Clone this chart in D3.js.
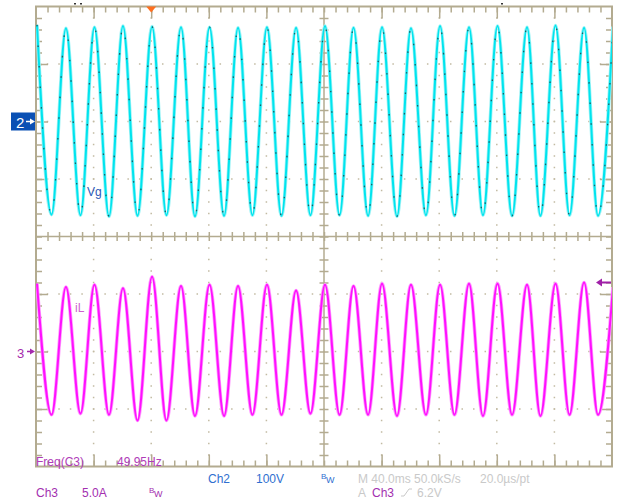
<!DOCTYPE html>
<html>
<head>
<meta charset="utf-8">
<script src="https://cdn.jsdelivr.net/npm/d3@7"></script>
<style>
  body { margin: 0; background: #fff; }
  svg { display: block; }
  text { font-family: "Liberation Sans", Arial, sans-serif; }
</style>
</head>
<body>
<div id="scope"></div>
<script>
//Peak / trough times in ms (40 ms/div)
var peakTimes = [0.7, 20.8, 40.6, 60.4, 80.6, 100.7, 120.5, 140.3, 160.4, 180.6, 200.7,
                 220.5, 240.3, 260.4, 280.6, 300.7, 320.5, 341.0, 360.8, 380.6, 400.7];
var troughTimes = [10.8, 30.9, 50.7, 70.5, 90.6, 110.4, 130.6, 150.3, 170.5, 190.6,
                   210.8, 230.6, 250.7, 270.8, 290.6, 310.4, 330.6, 350.3, 370.5, 390.3];

//Ch2 Vg (V), 100V/div
var vgPeaks = [168, 162, 164, 166, 165, 164, 164, 163, 164, 163, 166,
               163, 164, 162, 166, 164, 166, 164, 167, 163, 165];
var vgTroughs = [-162, -163, -165, -164, -163, -165, -164, -163, -164, -163,
                 -163, -164, -165, -163, -164, -163, -164, -164, -163, -164];

//Ch3 iL (A), 5.0A/div
var ilPeaks = [5.9, 5.6, 5.8, 5.5, 6.5, 5.7, 5.8, 5.7, 5.8, 5.3, 5.8,
               5.7, 5.9, 5.8, 5.8, 5.9, 5.9, 5.8, 5.9, 6.0, 5.6];
var ilTroughs = [-5.5, -5.4, -5.5, -6.0, -6.0, -5.6, -5.6, -5.5, -5.5, -5.4,
                 -5.5, -5.5, -5.6, -5.5, -5.5, -5.6, -5.5, -5.6, -5.5, -5.5];

var trigLevel = 6.0;   //A, arrow on the right
var trigTime = 80;     //ms, orange marker on top

var W = 619, H = 502;
var gLeft = 36, gRight = 612, gTop = 6.5, gBottom = 466.5;

var svg = d3.select("#scope").append("svg")
    .attr("width", W)
    .attr("height", H);

//Scales: time across, divisions up/down, one per channel
var x = d3.scaleLinear().domain([0, 400]).range([gLeft, gRight]);
var xDiv = d3.scaleLinear().domain([0, 10]).range([gLeft, gRight]);
var yDiv = d3.scaleLinear().domain([4, -4]).range([gTop, gBottom]);
var y2 = d3.scaleLinear().domain([-600, 200]).range([gBottom, gTop]);   //ground +2 div
var y3 = d3.scaleLinear().domain([-10, 30]).range([gBottom, gTop]);     //ground -2 div

var gridCol = "#b3ab90";
var dotCol = "#c2baa2";

//Graticule
var grid = svg.append("g");

var minor = d3.range(1, 50).map(function(i) { return i / 5; });
var minorY = d3.range(-19, 20).map(function(i) { return i / 5; });
var majorX = [1, 2, 3, 4, 6, 7, 8, 9];
var majorY = [-3, -2, -1, 1, 2, 3];

//dotted lines at major divisions
majorX.forEach(function(d) {
  grid.selectAll(null).data(minorY).enter().append("rect")
      .attr("x", xDiv(d) - 0.75).attr("y", function(v) { return yDiv(v) - 0.75; })
      .attr("width", 1.5).attr("height", 1.5).attr("fill", dotCol);
});
majorY.forEach(function(d) {
  grid.selectAll(null).data(minor).enter().append("rect")
      .attr("x", function(v) { return xDiv(v) - 0.75; }).attr("y", yDiv(d) - 0.75)
      .attr("width", 1.5).attr("height", 1.5).attr("fill", dotCol);
});

function tickAxis(axis, vals, size, tr) {
  var g = grid.append("g")
      .attr("transform", tr)
      .call(axis.tickValues(vals).tickSize(size).tickSizeOuter(0).tickFormat(""));
  g.select(".domain").remove();
  g.selectAll("line").attr("stroke", gridCol).attr("stroke-width", 1.5);
}

//border ticks (minor + longer majors), pointing inward
tickAxis(d3.axisBottom(xDiv), minor, 6, "translate(0," + gTop + ")");
tickAxis(d3.axisBottom(xDiv), majorX, 12, "translate(0," + gTop + ")");
tickAxis(d3.axisTop(xDiv), minor, 6, "translate(0," + gBottom + ")");
tickAxis(d3.axisTop(xDiv), majorX, 12, "translate(0," + gBottom + ")");
tickAxis(d3.axisRight(yDiv), minorY, 6, "translate(" + gLeft + ",0)");
tickAxis(d3.axisRight(yDiv), majorY, 12, "translate(" + gLeft + ",0)");
tickAxis(d3.axisLeft(yDiv), minorY, 6, "translate(" + gRight + ",0)");
tickAxis(d3.axisLeft(yDiv), majorY, 12, "translate(" + gRight + ",0)");

//centre cross ticks
tickAxis(d3.axisBottom(xDiv), minor, 4.5, "translate(0," + yDiv(0) + ")");
tickAxis(d3.axisTop(xDiv), minor, 4.5, "translate(0," + yDiv(0) + ")");
tickAxis(d3.axisRight(yDiv), minorY, 4.5, "translate(" + xDiv(5) + ",0)");
tickAxis(d3.axisLeft(yDiv), minorY, 4.5, "translate(" + xDiv(5) + ",0)");

grid.append("line")
    .attr("x1", gLeft).attr("x2", gRight).attr("y1", yDiv(0)).attr("y2", yDiv(0))
    .attr("stroke", gridCol).attr("stroke-width", 1.5);
grid.append("line")
    .attr("x1", xDiv(5)).attr("x2", xDiv(5)).attr("y1", gTop).attr("y2", gBottom)
    .attr("stroke", gridCol).attr("stroke-width", 1.5);
grid.append("rect")
    .attr("x", gLeft).attr("y", gTop).attr("width", gRight - gLeft).attr("height", gBottom - gTop)
    .attr("fill", "none").attr("stroke", gridCol).attr("stroke-width", 2);

//Waveforms
svg.append("clipPath").attr("id", "screen")
  .append("rect").attr("x", gLeft).attr("y", gTop)
    .attr("width", gRight - gLeft).attr("height", gBottom - gTop);

function wave(peaks, troughs) {
  var pts = peakTimes.map(function(t, i) { return [t, peaks[i]]; })
      .concat(troughTimes.map(function(t, i) { return [t, troughs[i]]; }));
  return pts.sort(function(a, b) { return a[0] - b[0]; });
}

function trace(data, yScale, halo, core, specks) {
  var line = d3.line()
      .x(function(d) { return x(d[0]); })
      .y(function(d) { return yScale(d[1]); })
      .curve(d3.curveMonotoneX);
  var g = svg.append("g").attr("clip-path", "url(#screen)");
  g.append("path").attr("d", line(data))
      .attr("fill", "none").attr("stroke", halo).attr("stroke-width", 3.6);
  g.append("path").attr("d", line(data))
      .attr("fill", "none").attr("stroke", core).attr("stroke-width", 2);
  if (specks) {
    g.append("path").attr("d", line(data))
        .attr("fill", "none").attr("stroke", specks).attr("stroke-width", 1.3)
        .attr("stroke-dasharray", "1.5,19");
  }
}

trace(wave(vgPeaks, vgTroughs), y2, "#9ff3f6", "#00e4ee", "#1b5d64");
trace(wave(ilPeaks, ilTroughs), y3, "#ff9cff", "#ff10ff", null);

//Trigger position marker (top)
svg.append("path")
    .attr("d", "M" + (x(trigTime) - 5) + "," + gTop + " L" + (x(trigTime) + 5) + "," + gTop +
               " L" + x(trigTime) + "," + (gTop + 6) + " Z")
    .attr("fill", "#ff6f1f");
svg.selectAll(".tdot").data([75, 81, 502]).enter().append("rect")
    .attr("x", function(d) { return d - 1; }).attr("y", 3)
    .attr("width", 2).attr("height", 1.5).attr("fill", "#333");

//Trigger level arrow (right)
var ty = y3(trigLevel);
svg.append("line")
    .attr("x1", gRight - 12).attr("x2", gRight - 1).attr("y1", ty).attr("y2", ty)
    .attr("stroke", "#a020a8").attr("stroke-width", 2);
svg.append("path")
    .attr("d", "M" + (gRight - 16) + "," + ty + " L" + (gRight - 10) + "," + (ty - 4) +
               " L" + (gRight - 10) + "," + (ty + 4) + " Z")
    .attr("fill", "#a020a8");

//Ch2 ground marker
var g2 = y2(0);
svg.append("rect")
    .attr("x", 11).attr("y", g2 - 9).attr("width", 24).attr("height", 18)
    .attr("fill", "#0a50b4");
svg.append("text")
    .attr("x", 16).attr("y", g2 + 6)
    .attr("fill", "#fff").style("font-size", "15px")
    .text("2");
svg.append("line")
    .attr("x1", 26).attr("x2", 32).attr("y1", g2).attr("y2", g2)
    .attr("stroke", "#fff").attr("stroke-width", 1.5);
svg.append("path")
    .attr("d", "M30," + (g2 - 3) + " L35," + g2 + " L30," + (g2 + 3) + " Z")
    .attr("fill", "#fff");

//Ch3 ground marker
var g3 = y3(0);
svg.append("text")
    .attr("x", 17).attr("y", g3 + 6)
    .attr("fill", "#a52aad").style("font-size", "13px")
    .text("3");
svg.append("line")
    .attr("x1", 27).attr("x2", 32).attr("y1", g3).attr("y2", g3)
    .attr("stroke", "#a52aad").attr("stroke-width", 1.5);
svg.append("path")
    .attr("d", "M30," + (g3 - 3) + " L35," + g3 + " L30," + (g3 + 3) + " Z")
    .attr("fill", "#a52aad");

//Trace labels
svg.append("text").attr("x", 87).attr("y", 196)
    .attr("fill", "#2a58b8").style("font-size", "12px").text("Vg");
svg.append("text").attr("x", 75).attr("y", 312)
    .attr("fill", "#cf5fcf").style("font-size", "12px").text("iL");

//Readouts
var purple = "#a32fb0", blue = "#2f6fd0", grey = "#c9c9c9";
var readouts = [
  [36, 465.5, "Freq(C3)", "#b03cb8"],
  [117, 465.5, "49.95Hz", "#b03cb8"],
  [208, 483, "Ch2", blue],
  [256, 483, "100V", blue],
  [36, 496.5, "Ch3", purple],
  [82, 496.5, "5.0A", purple],
  [358, 483, "M 40.0ms 50.0kS/s", grey],
  [480, 483, "20.0\u00b5s/pt", grey],
  [358, 497, "A", grey],
  [372, 497, "Ch3", purple],
  [417, 497, "6.2V", grey]
];
svg.selectAll(".ro").data(readouts).enter().append("text")
    .attr("x", function(d) { return d[0]; })
    .attr("y", function(d) { return d[1]; })
    .attr("fill", function(d) { return d[3]; })
    .style("font-size", "12px")
    .text(function(d) { return d[2]; });

//Bandwidth limit marks
function bw(bx, by, col) {
  svg.append("text").attr("x", bx).attr("y", by - 4)
      .attr("fill", col).style("font-size", "8px").text("B");
  svg.append("text").attr("x", bx + 5).attr("y", by)
      .attr("fill", col).style("font-size", "9px").text("W");
}
bw(149, 497, purple);
bw(321, 483, blue);

//Trigger slope symbol
svg.append("path")
    .attr("d", "M401,496 H404 L409,489 H412")
    .attr("fill", "none").attr("stroke", grey).attr("stroke-width", 1);
</script>
</body>
</html>
